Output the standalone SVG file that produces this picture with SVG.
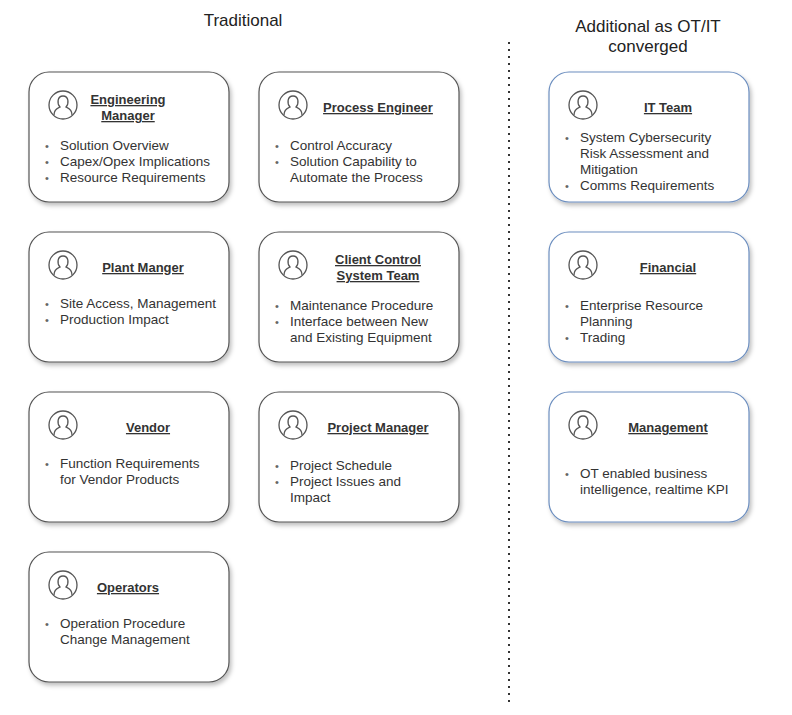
<svg xmlns="http://www.w3.org/2000/svg" width="792" height="715" viewBox="0 0 792 715">
<style>
text{font-family:"Liberation Sans",Arial,sans-serif;fill:#333}
.box{fill:#fff;stroke:#555;stroke-width:1.2;filter:url(#sh)}
.blue{stroke:#6c8ebf}
.t{font-size:13px;font-weight:bold;text-decoration:underline;text-anchor:middle}
.b{font-size:13.5px}
.d{font-size:11px;fill:#666}
.h{font-size:17px;text-anchor:middle;fill:#222}
.ic{fill:none;stroke:#555;stroke-width:1.3}
</style>
<defs>
<filter id="sh" x="-10%" y="-10%" width="130%" height="130%"><feDropShadow dx="2" dy="3" stdDeviation="2" flood-color="#000" flood-opacity="0.25"/></filter>
<g id="icon">
<circle class="ic" cx="0" cy="0" r="14"/>
<path class="ic" d="M-9,10 C-9,4 -5,3 -3,2 C-6,-1 -6,-9 0,-9 C6,-9 6,-1 3,2 C5,3 9,4 9,10"/>
</g>
</defs>
<rect width="792" height="715" fill="#fff"/>
<text class="h" x="243" y="26">Traditional</text>
<text class="h" x="648" y="32">Additional as OT/IT</text>
<text class="h" x="648" y="52">converged</text>
<g id="connectors"><line x1="509" y1="42" x2="509" y2="705" stroke="#333" stroke-width="2" stroke-dasharray="2,5"/></g>

<g id="eng"><rect class="box" x="29" y="72" width="200" height="130" rx="20"/><use href="#icon" x="63" y="105"/>
<text class="t" x="128" y="104">Engineering</text><text class="t" x="128" y="120">Manager</text>
<text class="d" x="45" y="150">•</text><text class="d" x="45" y="166">•</text><text class="d" x="45" y="182">•</text>
<text class="b" x="60" y="150">Solution Overview</text><text class="b" x="60" y="166">Capex/Opex Implications</text><text class="b" x="60" y="182">Resource Requirements</text></g>

<g id="proc"><rect class="box" x="259" y="72" width="200" height="130" rx="20"/><use href="#icon" x="293" y="105"/>
<text class="t" x="378" y="112">Process Engineer</text>
<text class="d" x="275" y="150">•</text><text class="d" x="275" y="166">•</text>
<text class="b" x="290" y="150">Control Accuracy</text><text class="b" x="290" y="166">Solution Capability to</text><text class="b" x="290" y="182">Automate the Process</text></g>

<g id="plant"><rect class="box" x="29" y="232" width="200" height="130" rx="20"/><use href="#icon" x="63" y="265"/>
<text class="t" x="143" y="272">Plant Manger</text>
<text class="d" x="45" y="308">•</text><text class="d" x="45" y="324">•</text>
<text class="b" x="60" y="308">Site Access, Management</text><text class="b" x="60" y="324">Production Impact</text></g>

<g id="client"><rect class="box" x="259" y="232" width="200" height="130" rx="20"/><use href="#icon" x="293" y="265"/>
<text class="t" x="378" y="264">Client Control</text><text class="t" x="378" y="280">System Team</text>
<text class="d" x="275" y="310">•</text><text class="d" x="275" y="326">•</text>
<text class="b" x="290" y="310">Maintenance Procedure</text><text class="b" x="290" y="326">Interface between New</text><text class="b" x="290" y="342">and Existing Equipment</text></g>

<g id="vendor"><rect class="box" x="29" y="392" width="200" height="130" rx="20"/><use href="#icon" x="63" y="425"/>
<text class="t" x="148" y="432">Vendor</text>
<text class="d" x="45" y="468">•</text>
<text class="b" x="60" y="468">Function Requirements</text><text class="b" x="60" y="484">for Vendor Products</text></g>

<g id="pm"><rect class="box" x="259" y="392" width="200" height="130" rx="20"/><use href="#icon" x="293" y="425"/>
<text class="t" x="378" y="432">Project Manager</text>
<text class="d" x="275" y="470">•</text><text class="d" x="275" y="486">•</text>
<text class="b" x="290" y="470">Project Schedule</text><text class="b" x="290" y="486">Project Issues and</text><text class="b" x="290" y="502">Impact</text></g>

<g id="ops"><rect class="box" x="29" y="552" width="200" height="130" rx="20"/><use href="#icon" x="63" y="585"/>
<text class="t" x="128" y="592">Operators</text>
<text class="d" x="45" y="628">•</text>
<text class="b" x="60" y="628">Operation Procedure</text><text class="b" x="60" y="644">Change Management</text></g>

<g id="it"><rect class="box blue" x="549" y="72" width="200" height="130" rx="20"/><use href="#icon" x="583" y="105"/>
<text class="t" x="668" y="112">IT Team</text>
<text class="d" x="565" y="142">•</text><text class="d" x="565" y="190">•</text>
<text class="b" x="580" y="142">System Cybersecurity</text><text class="b" x="580" y="158">Risk Assessment and</text><text class="b" x="580" y="174">Mitigation</text><text class="b" x="580" y="190">Comms Requirements</text></g>

<g id="fin"><rect class="box blue" x="549" y="232" width="200" height="130" rx="20"/><use href="#icon" x="583" y="265"/>
<text class="t" x="668" y="272">Financial</text>
<text class="d" x="565" y="310">•</text><text class="d" x="565" y="342">•</text>
<text class="b" x="580" y="310">Enterprise Resource</text><text class="b" x="580" y="326">Planning</text><text class="b" x="580" y="342">Trading</text></g>

<g id="mgmt"><rect class="box blue" x="549" y="392" width="200" height="130" rx="20"/><use href="#icon" x="583" y="425"/>
<text class="t" x="668" y="432">Management</text>
<text class="d" x="565" y="478">•</text>
<text class="b" x="580" y="478">OT enabled business</text><text class="b" x="580" y="494">intelligence, realtime KPI</text></g>
</svg>
